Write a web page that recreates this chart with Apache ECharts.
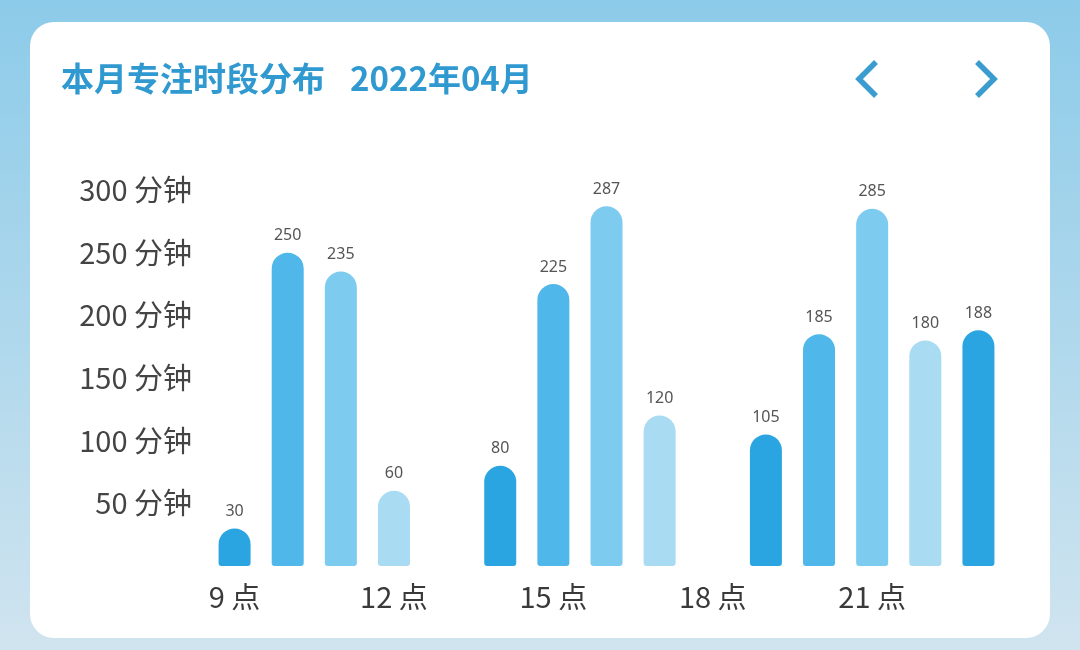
<!DOCTYPE html>
<html><head><meta charset="utf-8">
<script src="https://cdn.jsdelivr.net/npm/echarts@6/dist/echarts.min.js"></script>
<style>html,body{margin:0;padding:0;}#c{width:1080px;height:650px;}</style>
</head><body><div id="c"></div>
<script>
const hours = ['9','10','11','12','13','14','15','16','17','18','19','20','21','22','23'];
const minutes = [30,250,235,60,0,80,225,287,120,0,105,185,285,180,188];
const yTicks = [0,50,100,150,200,250,300];
const titleMain = '本月专注时段分布';
const titleDate = '2022年04月';
const palette = ['#2ba5e1','#4fb7e9','#7ecbf0','#a9dbf2'];

let k = 0;
const barData = minutes.map(v => {
  const c = palette[k % 4];
  if (v > 0) k++;
  return {value: v, itemStyle: {color: c}};
});

const chart = echarts.init(document.getElementById('c'));
chart.setOption({
  backgroundColor: new echarts.graphic.LinearGradient(0,0,0,1,[
    {offset:0,color:'#8ccbe9'},{offset:1,color:'#d0e4ef'}]),
  animation:false,
  graphic:[
    {type:'rect',z:-1,shape:{x:30,y:22,width:1020,height:616,r:24},style:{fill:'#ffffff'}},
    {type:'text',left:61,top:62,style:{text:titleMain,font:'bold 33px "Noto Sans CJK SC"',fill:'#3099cf'}},
    {type:'text',left:350,top:62,style:{text:titleDate,font:'bold 33px "Noto Sans CJK SC"',fill:'#3099cf'}},
    {type:'polyline',shape:{points:[[876,62],[859,79],[876,96]]},style:{stroke:'#3a9ccf',lineWidth:5.5,fill:null,lineCap:'butt'}},
    {type:'polyline',shape:{points:[[977,62],[994,79],[977,96]]},style:{stroke:'#3a9ccf',lineWidth:5.5,fill:null,lineCap:'butt'}}
  ],
  grid:{left:208,right:75,top:190,height:376},
  xAxis:{type:'category',data:hours,
    axisLine:{show:false},axisTick:{show:false},
    axisLabel:{interval:2,margin:16,fontSize:29,color:'#3a3a3a',fontFamily:'"Noto Sans CJK SC"',formatter:v=>v+' 点'}},
  yAxis:{type:'value',min:0,max:300,interval:50,
    splitLine:{show:false},axisLine:{show:false},axisTick:{show:false},
    axisLabel:{margin:16,fontSize:29,color:'#444',fontFamily:'"Noto Sans CJK SC"',
      formatter:v=> v===0?'':v+' 分钟'}},
  series:[{type:'bar',data:barData,barWidth:32,
    itemStyle:{borderRadius:[16,16,3,3]},
    label:{show:true,position:'top',distance:9,fontSize:16,color:'#555',fontFamily:'"Noto Sans"',
      formatter:p=>p.value>0?p.value:''}}]
});
</script></body></html>
